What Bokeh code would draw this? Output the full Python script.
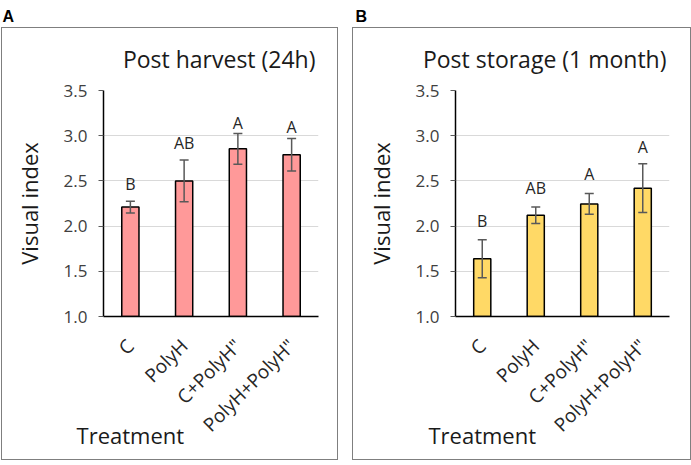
from math import pi
from bokeh.plotting import figure
from bokeh.core.properties import value
from bokeh.models import (ColumnDataSource, FactorRange, Range1d, FixedTicker,
                          PrintfTickFormatter, Whisker, TeeHead, LabelSet, Title,
                          CategoricalAxis)
from bokeh.layouts import row
from bokeh.embed import file_html
from bokeh.resources import INLINE

treatments = ["C", "PolyH", 'C+PolyH"', 'PolyH+PolyH"']
y_ticks = [1.0, 1.5, 2.0, 2.5, 3.0, 3.5]
# x title slot: the title sits in the first of four equal slots under the axis
x_title_slots = ["Treatment", " ", "  ", "   "]

harvest_mean = [2.21, 2.50, 2.855, 2.79]
harvest_err = [0.065, 0.23, 0.17, 0.18]
harvest_letters = ["B", "AB", "A", "A"]
harvest_letter_y = [2.47, 2.92, 3.14, 3.10]

storage_mean = [1.64, 2.12, 2.245, 2.42]
storage_err = [0.21, 0.09, 0.115, 0.27]
storage_letters = ["B", "AB", "A", "A"]
storage_letter_y = [2.06, 2.42, 2.58, 2.88]

FONT = "Open Sans"


def make_panel(title, panel_label, means, errs, letters, letter_y, color,
               width, border_left, border_right, box_left, box_right, label_dx):
    src = ColumnDataSource(dict(
        x=treatments, top=means,
        upper=[m + e for m, e in zip(means, errs)],
        lower=[m - e for m, e in zip(means, errs)],
        letters=letters, ly=letter_y))
    box_css = (":host::after { content: ''; position: absolute; "
               f"left: {box_left}px; top: 27px; width: {box_right - box_left + 1}px; "
               "height: 433px; box-sizing: border-box; border: 1px solid #7f7f7f; "
               "pointer-events: none; }")
    p = figure(x_range=FactorRange(*treatments), y_range=Range1d(1.0, 3.5),
               width=width, height=465, output_backend="svg",
               toolbar_location=None, min_border_left=border_left,
               min_border_right=border_right, min_border_top=90,
               min_border_bottom=149,
               styles={"position": "relative"}, stylesheets=[box_css])
    p.outline_line_color = None
    p.background_fill_color = "white"
    p.border_fill_color = "white"

    p.vbar(x="x", top="top", bottom=1.0, width=0.32, source=src,
           fill_color=color, line_color="black", line_width=1.5)
    p.add_layout(Whisker(source=src, base="x", upper="upper", lower="lower",
                         line_color="#595959", line_width=1.5, level="glyph",
                         upper_head=TeeHead(size=9, line_color="#595959", line_width=1.5),
                         lower_head=TeeHead(size=9, line_color="#595959", line_width=1.5)))
    p.add_layout(LabelSet(x="x", y="ly", text="letters", source=src, level="glyph",
                          text_align="center", text_baseline="middle",
                          text_font=value(FONT), text_font_size="16px",
                          text_color="#262626"))

    # axes
    p.yaxis.ticker = FixedTicker(ticks=y_ticks)
    p.yaxis.formatter = PrintfTickFormatter(format="%.1f")
    p.yaxis.minor_tick_line_color = None
    p.yaxis.major_tick_out = 5
    p.yaxis.major_tick_in = 0
    p.yaxis.major_tick_line_color = "#595959"
    p.yaxis.axis_line_color = "black"
    p.yaxis.axis_line_width = 1.5
    p.yaxis.major_label_text_font = FONT
    p.yaxis.major_label_text_font_size = "17px"
    p.yaxis.major_label_text_color = "#404040"
    p.yaxis.major_label_standoff = 11
    p.yaxis.axis_label = "Visual index"
    p.yaxis.axis_label_text_font = FONT
    p.yaxis.axis_label_text_font_size = "22px"
    p.yaxis.axis_label_text_font_style = "normal"
    p.yaxis.axis_label_text_color = "#1a1a1a"
    p.yaxis.axis_label_standoff = 17

    p.xaxis.major_tick_out = 0
    p.xaxis.major_tick_in = 0
    p.xaxis.minor_tick_line_color = None
    p.xaxis.axis_line_color = "black"
    p.xaxis.axis_line_width = 1.5
    p.xaxis.major_label_orientation = pi / 4
    p.xaxis.major_label_text_font = FONT
    p.xaxis.major_label_text_font_size = "19px"
    p.xaxis.major_label_text_color = "#262626"
    p.xaxis.major_label_standoff = 26

    # x title as an extra line-less categorical axis beside the slanted labels
    p.extra_x_ranges = {"xt": FactorRange(factors=x_title_slots)}
    xt = CategoricalAxis(x_range_name="xt",
                         axis_line_color=None, major_tick_line_color=None,
                         minor_tick_line_color=None, major_tick_out=0,
                         major_tick_in=0, major_label_standoff=-30,
                         major_label_text_font=FONT,
                         major_label_text_font_size="22px",
                         major_label_text_color="#1a1a1a")
    p.add_layout(xt, "below")

    p.xgrid.grid_line_color = None
    p.ygrid.grid_line_color = "#d9d9d9"
    p.ygrid.grid_line_width = 1

    # panel letter as the figure title (outermost above)
    p.title.text = panel_label
    p.title.align = "left"
    p.title.offset = label_dx
    p.title.standoff = 0
    p.title.text_font = "Liberation Sans"
    p.title.text_font_style = "bold"
    p.title.text_font_size = "16px"
    p.title.text_color = "black"
    # chart title
    p.add_layout(Title(text=title, align="right", offset=3, standoff=32,
                       text_font=FONT, text_font_size="23px",
                       text_font_style="normal", text_color="#1a1a1a"), "above")
    return p


pA = make_panel("Post harvest (24h)", "A", harvest_mean, harvest_err,
                harvest_letters, harvest_letter_y, "#ff9999",
                345, 103, 27, 1, 337, -101)
pB = make_panel("Post storage (1 month)", "B", storage_mean, storage_err,
                storage_letters, storage_letter_y, "#ffd966",
                346, 110, 22, 7, 345, -100)

layout = row(pA, pB, styles={"position": "absolute", "left": "0px", "top": "0px"})
open("out.html", "w").write(file_html(layout, INLINE))
